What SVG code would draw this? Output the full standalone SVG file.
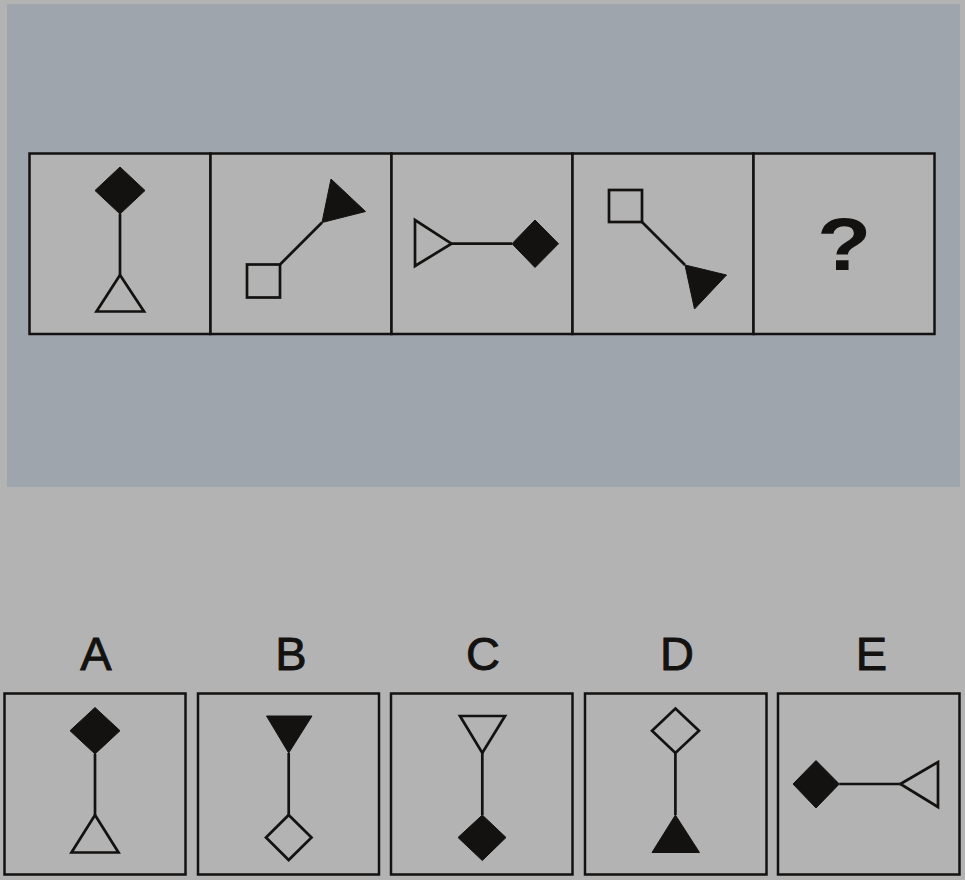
<svg xmlns="http://www.w3.org/2000/svg" width="965" height="880" viewBox="0 0 965 880">
<style>
.box{fill:#b3b3b3;stroke:#141210;stroke-width:2.5}
.fill{fill:#141210;stroke:#141210;stroke-width:1;stroke-linejoin:miter}
.open{fill:none;stroke:#141210;stroke-width:2.7;stroke-linejoin:miter}
.ln{stroke:#141210;stroke-width:2.7;fill:none}
.lbl{font-family:"Liberation Sans",Arial,sans-serif;font-size:47px;fill:#141210;stroke:#141210;stroke-width:0.9;text-anchor:middle}
.q{font-family:"Liberation Sans",Arial,sans-serif;font-weight:bold;font-size:74px;fill:#141210;text-anchor:middle}
</style>
<rect x="0" y="0" width="965" height="880" fill="#b3b3b3"/>
<rect x="7" y="4" width="953" height="483" fill="#9ea5ad"/>

<g id="sequence">
  <g id="panel1">
    <rect class="box" x="29.5" y="153.5" width="181" height="180.5"/>
    <polygon class="fill" points="120,167 145,190.5 120,214 95,190.5"/>
    <polygon class="open" points="120,275 144,311.5 96.5,311.5"/>
  </g>
  <g id="panel2">
    <rect class="box" x="210.5" y="153.5" width="181" height="180.5"/>
    <rect class="open" x="247" y="264.5" width="33" height="33"/>
    <polygon class="fill" points="331,179 365.5,211.5 322,222.5"/>
  </g>
  <g id="panel3">
    <rect class="box" x="391.5" y="153.5" width="181" height="180.5"/>
    <polygon class="open" points="415,220 415,266 451.5,243.7"/>
    <polygon class="fill" points="512,243.7 535,220 558.5,243.7 535,267.5"/>
  </g>
  <g id="panel4">
    <rect class="box" x="572.5" y="153.5" width="181" height="180.5"/>
    <rect class="open" x="609" y="190" width="33" height="32"/>
    <polygon class="fill" points="685,265 726.5,275 694.5,309"/>
  </g>
  <g id="panel5">
    <rect class="box" x="753.5" y="153.5" width="181" height="180.5"/>
    <text class="q" x="844" y="270" transform="translate(-168.8,0) scale(1.2,1)">?</text>
  </g>
</g>

<g id="options">
  <g id="optA">
    <text class="lbl" x="96" y="670">A</text>
    <rect class="box" x="4.5" y="693.5" width="181" height="181"/>
    <polygon class="fill" points="95,707.5 120,730.7 95,754 70,730.7"/>
    <polygon class="open" points="95,815 118.5,852.5 71.5,852.5"/>
  </g>
  <g id="optB">
    <text class="lbl" x="291" y="670">B</text>
    <rect class="box" x="198" y="693.5" width="181" height="181"/>
    <polygon class="fill" points="266.5,716 312,716 288.7,753"/>
    <polygon class="open" points="288.7,815 311.5,837.5 288.7,860 266,837.5"/>
  </g>
  <g id="optC">
    <text class="lbl" x="483" y="670">C</text>
    <rect class="box" x="391" y="693.5" width="181.5" height="181"/>
    <polygon class="open" points="460,716 505,716 482.3,753"/>
    <polygon class="fill" points="482.3,815 506,837.5 482.3,860.5 458,837.5"/>
  </g>
  <g id="optD">
    <text class="lbl" x="677" y="670">D</text>
    <rect class="box" x="585" y="693.5" width="181.5" height="181"/>
    <polygon class="open" points="675.4,708.5 699,730.7 675.4,753 652,730.7"/>
    <polygon class="fill" points="675.4,815 699.5,852.5 652,852.5"/>
  </g>
  <g id="optE">
    <text class="lbl" x="871.5" y="670">E</text>
    <rect class="box" x="778" y="693.5" width="181.5" height="181"/>
    <polygon class="fill" points="793,784 816,760.5 839.3,784 816,808"/>
    <polygon class="open" points="900.4,784 938,762 938,807"/>
  </g>
</g>

<g id="connectors">
  <line class="ln" x1="120" y1="214" x2="120" y2="275"/>
  <line class="ln" x1="280" y1="264.5" x2="322" y2="222.5"/>
  <line class="ln" x1="451.5" y1="243.7" x2="512" y2="243.7"/>
  <line class="ln" x1="642" y1="222" x2="685" y2="265"/>
  <line class="ln" x1="95" y1="754" x2="95" y2="815"/>
  <line class="ln" x1="288.7" y1="753" x2="288.7" y2="815"/>
  <line class="ln" x1="482.3" y1="753" x2="482.3" y2="815"/>
  <line class="ln" x1="675.4" y1="753" x2="675.4" y2="815"/>
  <line class="ln" x1="839.3" y1="784" x2="900.4" y2="784"/>
</g>
</svg>
